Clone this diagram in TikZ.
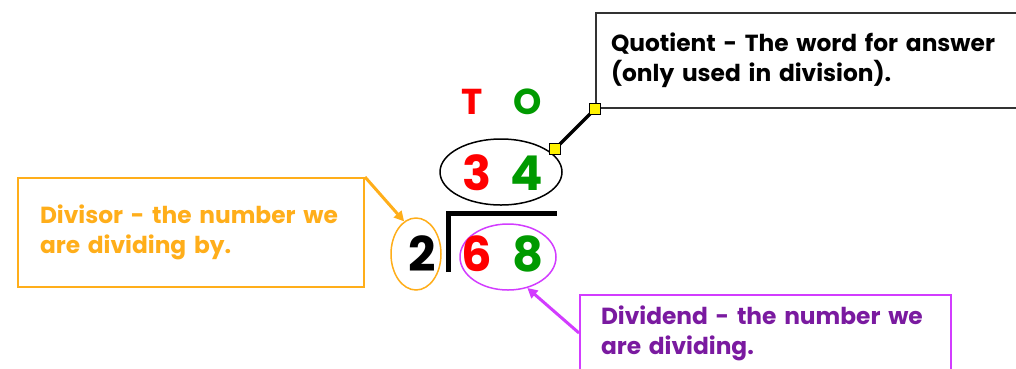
\documentclass[tikz,border=0pt]{standalone}
\usepackage{fontspec}
\setmainfont{Poppins}
\usetikzlibrary{shapes.geometric,arrows.meta,calc}
\definecolor{orng}{HTML}{FFAE1A}
\definecolor{mag}{HTML}{D23CFF}
\definecolor{dpurp}{HTML}{7A1AA0}
\definecolor{grn}{HTML}{009A00}
\definecolor{rd}{HTML}{FF0000}
\definecolor{qgray}{HTML}{333333}
\tikzset{
  lbl/.style={font=\fontsize{23.3}{30}\selectfont\bfseries, align=left, anchor=north west, line width=2pt},
  dig/.style={font=\fontsize{48}{48}\selectfont\bfseries, inner sep=0pt},
  place/.style={font=\fontsize{36}{36}\selectfont\bfseries, inner sep=0pt},
  ysq/.style={draw=black, fill=yellow, line width=1pt, minimum size=11pt, inner sep=0pt},
  ring/.style={ellipse, draw, line width=1.5pt, inner sep=0pt},
  callarrow/.style={line width=3pt, -{Triangle[length=10pt,width=10pt]}}
}
\begin{document}
\begin{tikzpicture}[x=1pt,y=-1pt]
\clip (0,0) rectangle (1016,368);
\fill[white] (0,0) rectangle (1016,368);
% boxes
\node[lbl, draw=qgray, text=black, inner xsep=15pt, minimum width=425pt, minimum height=95pt, text width=395pt] (qbox) at (595,12)
  {Quotient - The word for answer\\(only used in division).};
\node[lbl, draw=orng, text=orng, inner xsep=22pt, minimum width=346pt, minimum height=109pt, text width=302pt] (obox) at (17,177)
  {Divisor - the number we\\are dividing by.};
\node[lbl, draw=mag, text=dpurp, inner xsep=21pt, minimum width=371pt, minimum height=76pt, text width=329pt] (pbox) at (579,294)
  {Dividend - the number we\\are dividing.};
% place headings
\node[place, text=rd] (tt) at (472,102) {T};
\node[place, text=grn] (oo) at (528,102) {O};
% ellipses
\node[ring, draw=black, minimum width=122pt, minimum height=66pt] (quot) at (501,172) {};
\node[ring, draw=orng, minimum width=50pt, minimum height=72pt] (dvs) at (416,254) {};
\node[ring, draw=mag, minimum width=96pt, minimum height=66pt] (dvd) at (508,257) {};
% digits
\node[dig, text=rd] (d3) at (477,173) {3};
\node[dig, text=grn] (d4) at (527,173) {4};
\node[dig, text=black] (d2) at (422,254) {2};
\node[dig, text=rd] (d6) at (477,254) {6};
\node[dig, text=grn] (d8) at (528,254) {8};
% division bracket
\draw[line width=5pt] (448,272) -- (448,213) -- (557,213);
% connectors
\draw[callarrow, orng] (obox.north east) -- (dvs.110);
\draw[callarrow, mag] (pbox.west) -- (dvd.-58);
\coordinate (c1) at ($(quot.center)+(54,-23)$);
\coordinate (c2) at (qbox.south west);
\draw[line width=3.5pt] (c1) -- (c2);
\node[ysq] (s1) at (c1) {};
\node[ysq] (s2) at (c2) {};
\end{tikzpicture}
\end{document}
